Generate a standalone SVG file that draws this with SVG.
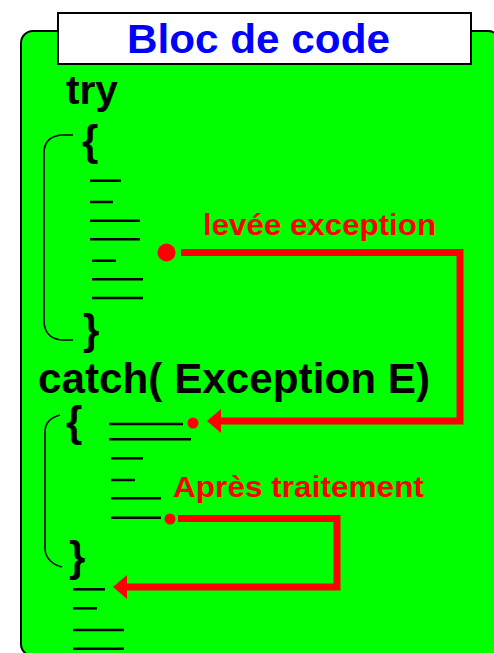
<svg xmlns="http://www.w3.org/2000/svg" width="494" height="653" viewBox="0 0 494 653">
  <style>
    .code { fill: #000; font-family: "Liberation Sans", Arial, sans-serif; font-weight: bold; }
    .lbl { fill: #FF0000; font-family: "Liberation Sans", Arial, sans-serif; font-weight: bold; font-size: 29px; }
    .ln { stroke: #000; stroke-width: 2.5; fill: none; }
    .br { stroke: #000; stroke-width: 1.6; fill: none; }
    .conn { stroke: #FF0000; stroke-width: 7; fill: none; }
  </style>
  <defs>
    <marker id="arrow" markerUnits="userSpaceOnUse" markerWidth="16" markerHeight="26" refX="0" refY="12" orient="auto" overflow="visible">
      <polygon points="0,0 14,12 0,24" fill="#FF0000"/>
    </marker>
  </defs>
  <rect x="0" y="0" width="494" height="653" fill="#FFFFFF"/>

  <g id="code-block">
    <rect x="21" y="31" width="479" height="625" rx="12" ry="12" fill="#00FF00" stroke="#000" stroke-width="2"/>
  </g>

  <g id="title">
    <rect x="58" y="13" width="413" height="51" fill="#FFFFFF" stroke="#000" stroke-width="2"/>
    <text x="127" y="53" font-family="'Liberation Sans', Arial, sans-serif" font-weight="bold" font-size="40" fill="#0000FF" textLength="263" lengthAdjust="spacingAndGlyphs">Bloc de code</text>
  </g>

  <g id="try-block">
    <text class="code" x="66" y="104" font-size="40" textLength="52" lengthAdjust="spacingAndGlyphs">try</text>
    <path class="br" d="M73,135 L61,135 Q44,137 44,153 L44,322 Q45,338 61,340 L73,340"/>
    <text class="code" x="82" y="155" font-size="42">{</text>
    <line class="ln" x1="90" y1="180.7" x2="121" y2="180.7"/>
    <line class="ln" x1="90" y1="202" x2="113" y2="202"/>
    <line class="ln" x1="90" y1="220.7" x2="140" y2="220.7"/>
    <line class="ln" x1="90" y1="239.3" x2="140" y2="239.3"/>
    <line class="ln" x1="92" y1="260.7" x2="116" y2="260.7"/>
    <line class="ln" x1="92" y1="279.3" x2="143" y2="279.3"/>
    <line class="ln" x1="92" y1="298" x2="143" y2="298"/>
    <text class="code" x="83" y="344" font-size="42">}</text>
  </g>

  <g id="catch-block">
    <text class="code" x="38" y="393" font-size="42" textLength="392" lengthAdjust="spacingAndGlyphs">catch( Exception E)</text>
    <path class="br" d="M60,415 Q45,419 45,432 L45,550 Q47,563 62,567"/>
    <text class="code" x="66" y="436" font-size="42">{</text>
    <line class="ln" x1="109" y1="424" x2="183" y2="424"/>
    <line class="ln" x1="109" y1="439.3" x2="191" y2="439.3"/>
    <line class="ln" x1="111" y1="458.3" x2="143" y2="458.3"/>
    <line class="ln" x1="111" y1="480" x2="135" y2="480"/>
    <line class="ln" x1="111" y1="498.3" x2="161" y2="498.3"/>
    <line class="ln" x1="111" y1="517.7" x2="161" y2="517.7"/>
    <text class="code" x="69" y="571" font-size="42">}</text>
  </g>

  <g id="after-block">
    <line class="ln" x1="73" y1="589.3" x2="105" y2="589.3"/>
    <line class="ln" x1="73" y1="608.3" x2="97" y2="608.3"/>
    <line class="ln" x1="73" y1="630" x2="124" y2="630"/>
    <line class="ln" x1="73" y1="648.7" x2="124" y2="648.7"/>
  </g>

  <g id="connectors">
    <circle cx="166.5" cy="252.5" r="9" fill="#FF0000"/>
    <path class="conn" d="M181,252.5 H460 V421 H221" marker-end="url(#arrow)"/>
    <circle cx="193" cy="423" r="5.5" fill="#FF0000"/>
    <text class="lbl" x="203" y="235" textLength="233" lengthAdjust="spacingAndGlyphs">levée exception</text>

    <circle cx="170" cy="519" r="5.5" fill="#FF0000"/>
    <path class="conn" d="M178,518.5 H337 V587 H127" marker-end="url(#arrow)"/>
    <text class="lbl" x="173" y="497" textLength="251" lengthAdjust="spacingAndGlyphs">Après traitement</text>
  </g>
</svg>
